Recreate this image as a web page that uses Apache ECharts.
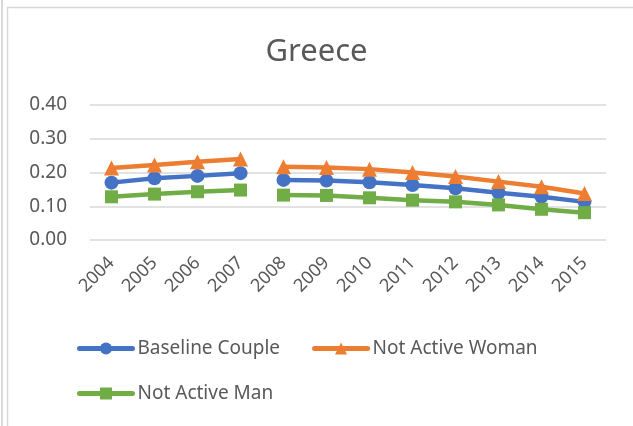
<!DOCTYPE html>
<html>
	<head>
		<meta charset="UTF-8">
		<title>Greece</title>
		<style>
			html, body { margin: 0; padding: 0; background: #fff; }
		</style>
	</head>
	<body>
		<div id="box" style="width: 633px;height: 426px;"></div>
		<script src="https://cdn.jsdelivr.net/npm/echarts@6/dist/echarts.min.js" type="text/javascript" charset="utf-8"></script>
		<script type="text/javascript">
			const years = ['2004', '2005', '2006', '2007', '2008', '2009', '2010', '2011', '2012', '2013', '2014', '2015'];
			const baselineCouple = [0.170, 0.183, 0.190, 0.198, 0.178, 0.176, 0.171, 0.163, 0.153, 0.140, 0.128, 0.113];
			const notActiveWoman = [0.213, 0.222, 0.232, 0.240, 0.217, 0.215, 0.210, 0.200, 0.188, 0.173, 0.158, 0.138];
			const notActiveMan = [0.128, 0.136, 0.143, 0.148, 0.133, 0.132, 0.125, 0.118, 0.113, 0.104, 0.091, 0.081];
			const yTicks = [0, 0.1, 0.2, 0.3, 0.4];
			// the line is broken between 2007 and 2008
			const breakAt = 4;

			const font = 'Noto Sans';
			const grey = '#595959';

			function part(values, first) {
				return values.map((v, i) => (first ? i < breakAt : i >= breakAt) ? v : null);
			}

			function makeSeries(name, values, color, symbol, size) {
				return [true, false].map(first => ({
					name: name,
					type: 'line',
					data: part(values, first),
					symbol: symbol,
					symbolSize: size,
					showSymbol: true,
					connectNulls: false,
					lineStyle: { color: color, width: 4.5 },
					itemStyle: { color: color },
					emphasis: { disabled: true },
					animation: false
				}));
			}

			const legendBase = {
				left: 77,
				padding: 0,
				itemWidth: 53,
				itemHeight: 15,
				itemGap: 32,
				lineStyle: { width: 5, cap: 'round' },
				textStyle: { fontFamily: font, fontSize: 19, color: grey }
			};

			const option = {
				title: {
					text: 'Greece',
					left: 'center',
					top: 32,
					textStyle: { fontFamily: font, fontSize: 31, fontWeight: 'normal', color: grey }
				},
				legend: [
					Object.assign({}, legendBase, { data: ['Baseline Couple', 'Not Active Woman'], top: 339 }),
					Object.assign({}, legendBase, { data: ['Not Active Man'], top: 384 })
				],
				grid: {
					left: 90,
					right: 27,
					top: 105,
					bottom: 186,
					containLabel: false
				},
				xAxis: {
					type: 'category',
					data: years,
					boundaryGap: true,
					axisLine: { show: false },
					axisTick: { show: false },
					axisLabel: {
						rotate: 45,
						margin: 20,
						interval: 0,
						fontFamily: font,
						fontSize: 18,
						color: grey
					}
				},
				yAxis: {
					type: 'value',
					min: yTicks[0],
					max: yTicks[yTicks.length - 1],
					interval: 0.1,
					axisLine: { show: false },
					axisTick: { show: false },
					splitLine: { lineStyle: { color: '#d9d9d9', width: 1.5 } },
					axisLabel: {
						margin: 23,
						fontFamily: font,
						fontSize: 19,
						color: grey,
						formatter: v => v.toFixed(2)
					}
				},
				graphic: [{
					type: 'line',
					shape: { x1: 2, y1: 0, x2: 2, y2: 426 },
					style: { stroke: '#d9d9d9', lineWidth: 2 },
					silent: true
				}, {
					type: 'rect',
					shape: { x: 7.5, y: 7.5, width: 640, height: 440 },
					style: { fill: 'none', stroke: '#d9d9d9', lineWidth: 1.5 },
					silent: true
				}],
				series: [].concat(
					makeSeries('Baseline Couple', baselineCouple, '#4472C4', 'circle', 14),
					makeSeries('Not Active Woman', notActiveWoman, '#ED7D31', 'triangle', 15),
					makeSeries('Not Active Man', notActiveMan, '#70AD47', 'rect', 13)
				)
			};

			const myChart = echarts.init(document.getElementById('box'));
			myChart.setOption(option);
		</script>
	</body>
</html>
